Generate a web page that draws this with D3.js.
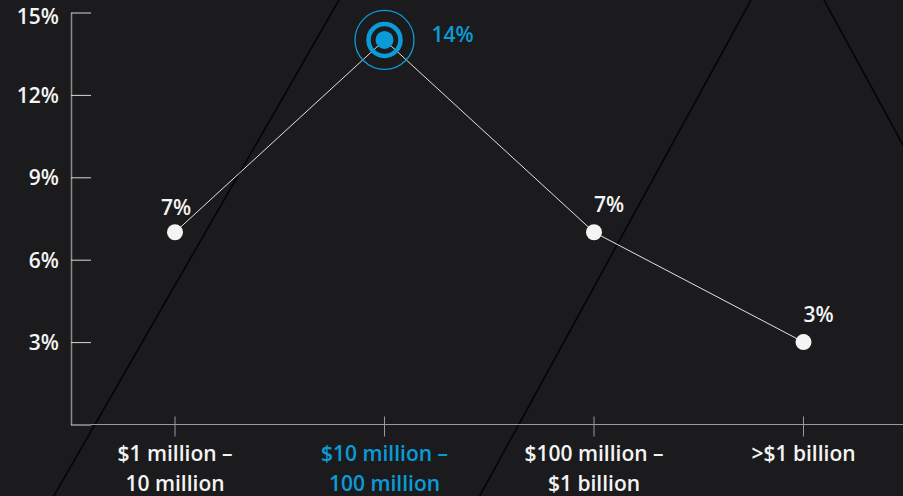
<!DOCTYPE html>
<html>
<head>
<meta charset="utf-8">
<script src="https://cdn.jsdelivr.net/npm/d3@7"></script>
<style>
  html, body { margin: 0; padding: 0; background: #1b1b1d; }
  svg { display: block; }
  text { font-family: "Open Sans", "Noto Sans", sans-serif; font-weight: 600; }
</style>
</head>
<body>
<svg id="chart" width="903" height="496"></svg>
<script>
// Share of companies by annual revenue band
const categoryLines = [
  ["$1 million –", "10 million"],
  ["$10 million –", "100 million"],
  ["$100 million –", "$1 billion"],
  [">$1 billion"]
];
const values = [7, 14, 7, 3];
const valueLabels = ["7%", "14%", "7%", "3%"];
const yTicks = [0, 3, 6, 9, 12, 15];
const yTickLabels = ["", "3%", "6%", "9%", "12%", "15%"];
const highlightIndex = 1;

const W = 903, H = 496;
const BG = "#1b1b1d", BLUE = "#0a9bd8", WHITE = "#f4f4f4";
const axisX = 71;

const svg = d3.select("#chart");
svg.append("rect").attr("width", W).attr("height", H).attr("fill", BG);

// decorative diagonal strokes behind the chart
const strokes = [
  { top: 339, slope: -0.575 },
  { top: 751, slope: -0.547 },
  { top: 824, slope: 0.545 }
];
svg.append("g").selectAll("line").data(strokes).join("line")
  .attr("x1", d => d.top + d.slope * -10).attr("y1", -10)
  .attr("x2", d => d.top + d.slope * (H + 10)).attr("y2", H + 10)
  .attr("stroke", "#050505").attr("stroke-width", 1.6);

const y = d3.scaleLinear().domain([0, 15]).range([424.5, 12.5]);
const x = d3.scalePoint().domain(d3.range(values.length)).range([175, 803.5]);

// y axis
const yAxis = d3.axisLeft(y)
  .tickValues(yTicks)
  .tickFormat((d, i) => yTickLabels[i])
  .tickSizeInner(-20)
  .tickSizeOuter(0)
  .tickPadding(12);
const gy = svg.append("g").attr("transform", `translate(${axisX},0)`).call(yAxis);
gy.select(".domain").attr("stroke", "#8a8a8a").attr("stroke-width", 1.5);
gy.selectAll(".tick line").attr("stroke", "#d8d8d8").attr("stroke-width", 1);
gy.selectAll(".tick text")
  .attr("fill", WHITE)
  .attr("font-size", 21)
  .attr("font-family", '"Open Sans", "Noto Sans", sans-serif')
  .attr("font-weight", 600)
  .attr("dy", d => d === 15 ? "0.52em" : "0.36em");

// x axis baseline and category ticks
const base = y(0);
svg.append("line")
  .attr("x1", axisX + 20).attr("x2", W).attr("y1", base).attr("y2", base)
  .attr("stroke", "#9a9a9a").attr("stroke-width", 1);
svg.append("g").selectAll("line").data(values).join("line")
  .attr("x1", (d, i) => x(i)).attr("x2", (d, i) => x(i))
  .attr("y1", base - 8).attr("y2", base + 12)
  .attr("stroke", "#9a9a9a").attr("stroke-width", 1);

// category labels
const cat = svg.append("g").selectAll("text").data(categoryLines).join("text")
  .attr("x", (d, i) => x(i))
  .attr("y", 461)
  .attr("text-anchor", "middle")
  .attr("font-size", 21)
  .attr("fill", (d, i) => i === highlightIndex ? BLUE : WHITE);
cat.selectAll("tspan").data(d => d).join("tspan")
  .attr("x", function () { return d3.select(this.parentNode).attr("x"); })
  .attr("dy", (d, j) => j === 0 ? 0 : 30)
  .text(d => d);

// connecting line
const line = d3.line().x((d, i) => x(i)).y(d => y(d));
svg.append("path").datum(values)
  .attr("d", line)
  .attr("fill", "none")
  .attr("stroke", "#e2e2e2")
  .attr("stroke-width", 1);

// points
values.forEach((v, i) => {
  const cx = x(i), cy = y(v);
  if (i === highlightIndex) {
    svg.append("circle").attr("cx", cx).attr("cy", cy).attr("r", 29.5)
      .attr("fill", "none").attr("stroke", BLUE).attr("stroke-width", 1.3);
    svg.append("circle").attr("cx", cx).attr("cy", cy).attr("r", 16)
      .attr("fill", "none").attr("stroke", BLUE).attr("stroke-width", 4.5);
    svg.append("circle").attr("cx", cx).attr("cy", cy).attr("r", 9).attr("fill", BLUE);
  } else {
    svg.append("circle").attr("cx", cx).attr("cy", cy).attr("r", 8).attr("fill", WHITE);
  }
});

// value labels: highlighted one to the right, others above the point,
// nudged right when the line arrives from a higher point
svg.append("g").selectAll("text").data(values).join("text")
  .attr("x", (d, i) => {
    if (i === highlightIndex) return x(i) + 47;
    return x(i) + (i > 0 && values[i - 1] > d ? 15 : 1);
  })
  .attr("y", (d, i) => {
    if (i === highlightIndex) return y(d) + 2;
    return y(d) - (i > 0 && values[i - 1] > d ? 20.5 : 17);
  })
  .attr("text-anchor", (d, i) => i === highlightIndex ? "start" : "middle")
  .attr("font-size", 21)
  .attr("fill", (d, i) => i === highlightIndex ? BLUE : WHITE)
  .text((d, i) => valueLabels[i]);
</script>
</body>
</html>
